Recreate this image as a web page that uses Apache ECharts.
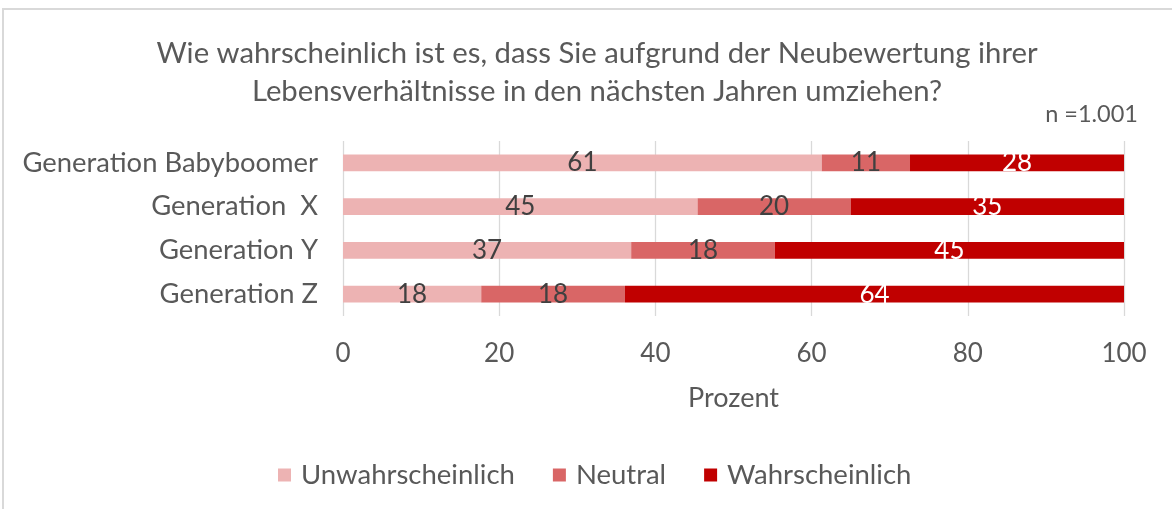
<!DOCTYPE html>
<html>
<head>
<meta charset="utf-8">
<script src="https://cdn.jsdelivr.net/npm/echarts@6/dist/echarts.min.js"></script>
<style>
html,body{margin:0;padding:0;background:#fff;}
#chart{width:1172px;height:509px;}
</style>
</head>
<body>
<div id="chart"></div>
<script>
// Data
const categories = ['Generation Babyboomer', 'Generation  X', 'Generation Y', 'Generation Z'];
const seriesNames = ['Unwahrscheinlich', 'Neutral', 'Wahrscheinlich'];
const unwahrscheinlich = [61.3, 45.4, 36.9, 17.7];
const neutral = [11.3, 19.6, 18.4, 18.4];
const wahrscheinlich = [27.6, 35.1, 44.8, 63.9];
const xTicks = [0, 20, 40, 60, 80, 100];
const titleLines = ['Wie wahrscheinlich ist es, dass Sie aufgrund der Neubewertung ihrer', 'Lebensverhältnisse in den nächsten Jahren umziehen?'];
const sampleNote = 'n =1.001';
const axisName = 'Prozent';

const FONT = 'Lato';
const TXT = '#595959';
const colors = ['#EDB3B3', '#D96666', '#C00000'];
const labelColors = ['#404040', '#404040', '#ffffff'];
const values = [unwahrscheinlich, neutral, wahrscheinlich];

const chart = echarts.init(document.getElementById('chart'), null, {renderer: 'canvas'});
const option = {
  animation: false,
  backgroundColor: '#fff',
  textStyle: {fontFamily: FONT},
  title: [{
    text: titleLines.join('\n'),
    left: 592, top: 29, textAlign: 'center',
    textStyle: {fontFamily: FONT, fontSize: 29.3, fontWeight: 'normal', color: TXT, lineHeight: 38.5}
  }, {
    text: sampleNote,
    right: 29, top: 97,
    textStyle: {fontFamily: FONT, fontSize: 23.5, fontWeight: 'normal', color: TXT}
  }],
  graphic: [{
    type: 'rect', silent: true,
    shape: {x: 3, y: 9, width: 1200, height: 520},
    style: {fill: 'none', stroke: '#d9d9d9', lineWidth: 2}
  }],
  legend: {
    top: 456, left: 273,
    itemWidth: 13, itemHeight: 13, itemGap: 38,
    icon: 'rect',
    textStyle: {fontFamily: FONT, fontSize: 27.5, color: TXT, padding: [0, 0, 0, 5]},
    data: seriesNames
  },
  grid: {left: 343, right: 48, top: 141, bottom: 193, containLabel: false},
  xAxis: {
    type: 'value', min: 0, max: 100, interval: 20,
    name: axisName, nameLocation: 'middle', nameGap: 69,
    nameTextStyle: {fontFamily: FONT, fontSize: 27, color: TXT},
    axisLine: {show: false}, axisTick: {show: false},
    axisLabel: {fontFamily: FONT, fontSize: 26, color: TXT, margin: 25,
      formatter: v => xTicks.includes(v) ? String(v) : ''},
    splitLine: {show: true, lineStyle: {color: '#d9d9d9', width: 1.3}}
  },
  yAxis: {
    type: 'category', data: categories, inverse: true,
    axisLine: {show: false}, axisTick: {show: false},
    axisLabel: {fontFamily: FONT, fontSize: 27.4, color: TXT, margin: 25}
  },
  series: seriesNames.map((name, i) => ({
    name, type: 'bar', stack: 'total', data: values[i],
    barWidth: '38%',
    itemStyle: {color: colors[i]},
    label: {
      show: true, position: 'inside',
      fontFamily: FONT, fontSize: 26, color: labelColors[i],
      formatter: p => String(Math.round(p.value))
    }
  }))
};
chart.setOption(option);
</script>
</body>
</html>
